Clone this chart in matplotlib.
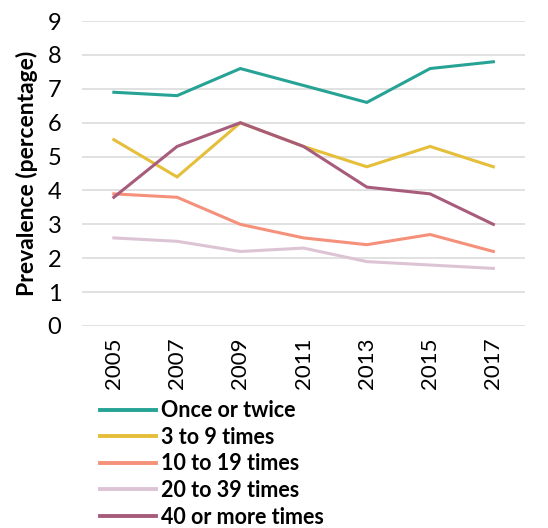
import matplotlib
matplotlib.use("Agg")
import matplotlib.pyplot as plt
from matplotlib.lines import Line2D

plt.rcParams['font.family'] = ['Lato', 'DejaVu Sans']

years = ["2005", "2007", "2009", "2011", "2013", "2015", "2017"]
once_or_twice = [6.9, 6.8, 7.6, 7.1, 6.6, 7.6, 7.8]
three_to_nine = [5.5, 4.4, 6.0, 5.3, 4.7, 5.3, 4.7]
ten_to_nineteen = [3.9, 3.8, 3.0, 2.6, 2.4, 2.7, 2.2]
twenty_to_39 = [2.6, 2.5, 2.2, 2.3, 1.9, 1.8, 1.7]
forty_plus = [3.8, 5.3, 6.0, 5.3, 4.1, 3.9, 3.0]

series = [
    ("Once or twice", once_or_twice, "#26A395"),
    ("3 to 9 times", three_to_nine, "#E5BE3A"),
    ("10 to 19 times", ten_to_nineteen, "#F5907A"),
    ("20 to 39 times", twenty_to_39, "#DDC4D4"),
    ("40 or more times", forty_plus, "#A85C7C"),
]

fig = plt.figure(figsize=(5.48, 5.28), dpi=100)
ax = fig.add_axes([0.150, 0.3826, 0.808, 0.5774])

x = list(range(len(years)))
handles = []
for label, vals, color in series:
    ax.plot(x, vals, color=color, lw=2.2, solid_joinstyle='miter')
    handles.append(Line2D([0], [0], color=color, lw=2.8, label=label))
# draw the mauve series over the yellow one where they meet
ax.lines[-1].set_zorder(3)

ax.set_xlim(-0.5, len(years) - 0.5)
ax.set_ylim(0, 9)
ax.set_yticks(range(0, 10))
ax.set_xticks(x)
ax.set_xticklabels(years, rotation=90, fontsize=16)
ax.tick_params(axis='y', labelsize=17, length=0, pad=15)
ax.tick_params(axis='x', length=0, pad=8)
ax.grid(axis='y', color='#D9D9D9', lw=1.1)
ax.set_axisbelow(True)
for s in ax.spines.values():
    s.set_visible(False)
ax.set_ylabel("Prevalence (percentage)", fontsize=16.5, fontweight='bold', labelpad=7)

fig.legend(handles=handles, loc='upper left', bbox_to_anchor=(0.1825, 0.242),
           frameon=False, prop={'size': 15.5, 'weight': 'bold'},
           handlelength=2.6, handletextpad=0.25, labelspacing=0.26,
           borderaxespad=0, borderpad=0)

fig.savefig("out.png", dpi=100)
